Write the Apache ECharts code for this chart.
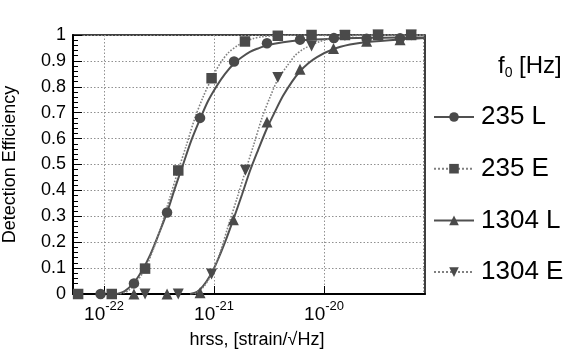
<!DOCTYPE html>
<html><head><meta charset="utf-8">
<script src="https://cdn.jsdelivr.net/npm/echarts@6/dist/echarts.min.js"></script>
<style>html,body{margin:0;padding:0;background:#fff}#c{width:567px;height:354px}</style>
</head><body><div id="c"></div>
<script>
// ---- data ----
const seriesNames = ['235 L', '235 E', '1304 L', '1304 E'];

// measured points
const x235L = [9.3e-23, 1.87e-22, 3.74e-22, 7.46e-22, 1.52e-21, 3.03e-21, 6.05e-21, 1.23e-20, 2.44e-20, 4.91e-20];
const y235L = [0, 0.041, 0.315, 0.68, 0.898, 0.968, 0.982, 0.988, 0.986, 0.987];
const x235E = [5.81e-23, 1.175e-22, 2.36e-22, 4.73e-22, 9.5e-22, 1.91e-21, 3.8e-21, 7.7e-21, 1.55e-20, 3.1e-20, 6.2e-20];
const y235E = [0, 0, 0.098, 0.477, 0.833, 0.975, 0.997, 1.0, 1.0, 1.0, 1.0];
const x1304L = [1.87e-22, 3.74e-22, 7.46e-22, 1.5e-21, 3.03e-21, 6.05e-21, 1.22e-20, 2.44e-20, 4.91e-20];
const y1304L = [0, 0, 0.005, 0.287, 0.664, 0.868, 0.948, 0.976, 0.982];
const x1304E = [2.36e-22, 4.73e-22, 9.5e-22, 1.93e-21, 3.8e-21, 7.7e-21, 1.55e-20, 3.1e-20, 6.2e-20];
const y1304E = [0, 0, 0.077, 0.478, 0.836, 0.958, 0.998, 1.0, 1.0];

// fitted curves
const cx235L = [1.312e-22, 1.553e-22, 1.875e-22, 2.215e-22, 2.62e-22, 3.097e-22, 3.74e-22, 4.42e-22, 5.23e-22, 6.18e-22, 7.46e-22, 8.82e-22, 1.065e-21, 1.259e-21, 1.52e-21, 1.80e-21, 2.12e-21, 2.51e-21, 3.03e-21, 4.24e-21, 6.05e-21, 1.233e-20, 2.46e-20, 4.91e-20, 8.28e-20];
const cy235L = [0, 0.012, 0.045, 0.09, 0.15, 0.225, 0.315, 0.41, 0.50, 0.59, 0.675, 0.745, 0.805, 0.85, 0.89, 0.915, 0.935, 0.948, 0.96, 0.972, 0.98, 0.986, 0.989, 0.99, 0.99];
const cx235E = [1.40e-22, 1.652e-22, 1.995e-22, 2.36e-22, 2.79e-22, 3.30e-22, 3.98e-22, 4.71e-22, 5.56e-22, 6.71e-22, 7.94e-22, 9.59e-22, 1.135e-21, 1.34e-21, 1.618e-21, 1.91e-21, 2.26e-21, 2.73e-21, 3.82e-21, 6.05e-21, 8.28e-20];
const cy235E = [0, 0.012, 0.05, 0.097, 0.17, 0.26, 0.375, 0.475, 0.57, 0.68, 0.76, 0.835, 0.89, 0.93, 0.958, 0.975, 0.986, 0.993, 0.998, 1.0, 1.0];
const cx1304L = [6.05e-22, 7.0e-22, 7.94e-22, 9.2e-22, 1.065e-21, 1.259e-21, 1.49e-21, 1.80e-21, 2.12e-21, 2.51e-21, 3.03e-21, 3.59e-21, 4.24e-21, 5.12e-21, 6.05e-21, 7.16e-21, 8.63e-21, 1.208e-20, 1.72e-20, 2.46e-20, 4.91e-20, 8.28e-20];
const cy1304L = [0, 0.008, 0.03, 0.07, 0.125, 0.2, 0.285, 0.385, 0.475, 0.555, 0.64, 0.705, 0.765, 0.82, 0.86, 0.89, 0.915, 0.945, 0.963, 0.973, 0.983, 0.988];
const cx1304E = [6.71e-22, 7.94e-22, 9.59e-22, 1.135e-21, 1.34e-21, 1.618e-21, 1.94e-21, 2.31e-21, 2.73e-21, 3.23e-21, 3.82e-21, 4.61e-21, 5.44e-21, 6.44e-21, 7.78e-21, 9.2e-21, 1.135e-20, 1.55e-20, 2.62e-20, 8.28e-20];
const cy1304E = [0, 0.025, 0.08, 0.16, 0.26, 0.37, 0.478, 0.58, 0.68, 0.76, 0.83, 0.88, 0.92, 0.945, 0.962, 0.975, 0.985, 0.995, 1.0, 1.0];

// axis
const xMin = 5.22e-23, xMax = 8.28e-20;
const yTicks = [0, 0.1, 0.2, 0.3, 0.4, 0.5, 0.6, 0.7, 0.8, 0.9, 1];
const xMinorGrid = [6e-23, 7e-23, 8e-23, 9e-23,
  2e-22, 3e-22, 4e-22, 5e-22, 6e-22, 7e-22, 8e-22, 9e-22,
  2e-21, 3e-21, 4e-21, 5e-21, 6e-21, 7e-21, 8e-21, 9e-21,
  2e-20, 3e-20, 4e-20, 5e-20, 6e-20, 7e-20, 8e-20];

const FONT = 'Liberation Sans';
const DARK = '#4a4a4a';
const zip = (a, b) => a.map((v, i) => [v, b[i]]);

const styles = [
  { sym: 'circle', rot: 0, size: 10.5, line: 'solid', lw: 2, lc: '#505050' },
  { sym: 'rect', rot: 0, size: 10.5, line: 'dotted', lw: 1.6, lc: '#808080' },
  { sym: 'triangle', rot: 0, size: 11, line: 'solid', lw: 2, lc: '#505050' },
  { sym: 'triangle', rot: 180, size: 11, line: 'dotted', lw: 1.6, lc: '#808080' }
];
const curves = [zip(cx235L, cy235L), zip(cx235E, cy235E), zip(cx1304L, cy1304L), zip(cx1304E, cy1304E)];
const points = [zip(x235L, y235L), zip(x235E, y235E), zip(x1304L, y1304L), zip(x1304E, y1304E)];

const series = [{
  type: 'line', name: '_grid', data: [], silent: true,
  markLine: {
    silent: true, symbol: ['none', 'none'], label: { show: false },
    lineStyle: { color: '#909090', type: [1.5, 2], width: 1 },
    data: xMinorGrid.map(v => ({ xAxis: v }))
  }
}];
seriesNames.forEach((n, i) => {
  const s = styles[i];
  series.push({
    type: 'line', name: n, data: curves[i], smooth: 0.3,
    showSymbol: false, symbol: s.sym, symbolRotate: s.rot, symbolSize: s.size,
    itemStyle: { color: DARK },
    lineStyle: { color: s.lc, width: s.lw, type: s.line }, z: 3
  });
  series.push({
    type: 'scatter', name: n, data: points[i], symbol: s.sym, symbolRotate: s.rot,
    symbolSize: s.size, itemStyle: { color: DARK, opacity: 1 }, z: 4
  });
});

const chart = echarts.init(document.getElementById('c'), null, { renderer: 'canvas' });
chart.setOption({
  animation: false,
  backgroundColor: '#fff',
  textStyle: { fontFamily: FONT },
  title: {
    text: '{a|f}{s|0}{a| [Hz]}', left: 498, top: 52, padding: 0,
    textStyle: { fontWeight: 'normal', rich: {
      a: { fontFamily: FONT, fontSize: 24, fontWeight: 'normal', color: '#000', lineHeight: 28 },
      s: { fontFamily: FONT, fontSize: 14, fontWeight: 'normal', color: '#000', verticalAlign: 'bottom', lineHeight: 22 }
    } }
  },
  legend: {
    data: seriesNames, orient: 'vertical', left: 433, top: 104, padding: 0,
    itemWidth: 40, itemHeight: 12, itemGap: 25.7,
    textStyle: { fontFamily: FONT, fontSize: 26, lineHeight: 26, color: '#000', padding: [0, 0, 0, 2] }
  },
  grid: { left: 73, right: 142, top: 35, bottom: 60, outerBoundsMode: 'none', containLabel: false,
    show: true, borderColor: '#000', borderWidth: 1.5, backgroundColor: 'transparent' },
  xAxis: {
    type: 'log', logBase: 10, min: xMin, max: xMax,
    name: 'hrss, [strain/\u221AHz]', nameLocation: 'middle', nameGap: 37,
    nameTextStyle: { fontFamily: FONT, fontSize: 18, color: '#000', padding: [0, 0, 0, 16] },
    axisLine: { lineStyle: { color: '#000', width: 2 } },
    axisTick: { inside: true, length: 8, lineStyle: { color: '#000' } },
    splitLine: { show: true, lineStyle: { color: '#909090', type: [1.5, 2], width: 1 } },
    axisLabel: {
      showMinLabel: false, showMaxLabel: false, margin: 6,
      formatter: function (v) {
        const e = Math.log10(v);
        if (Math.abs(e - Math.round(e)) > 1e-6) return '';
        return '{b|10}{s|' + Math.round(e) + '}';
      },
      rich: {
        b: { fontFamily: FONT, fontSize: 19, color: '#000', lineHeight: 24, verticalAlign: 'bottom' },
        s: { fontFamily: FONT, fontSize: 13, color: '#000', lineHeight: 14, verticalAlign: 'top' }
      }
    }
  },
  yAxis: {
    type: 'value', min: yTicks[0], max: yTicks[yTicks.length - 1], interval: 0.1,
    name: 'Detection Efficiency', nameLocation: 'middle', nameGap: 54,
    nameTextStyle: { fontFamily: FONT, fontSize: 18, color: '#000' },
    axisLine: { show: true, lineStyle: { color: '#000', width: 2 } },
    axisTick: { show: true, inside: true, length: 9, lineStyle: { color: '#000' } },
    minorTick: { show: true, splitNumber: 5, length: 5, lineStyle: { color: '#000' } },
    splitLine: { show: true, lineStyle: { color: '#909090', type: [1.5, 2], width: 1 } },
    axisLabel: { fontFamily: FONT, fontSize: 18, color: '#000', margin: 7 }
  },
  series: series
});
</script>
</body></html>
